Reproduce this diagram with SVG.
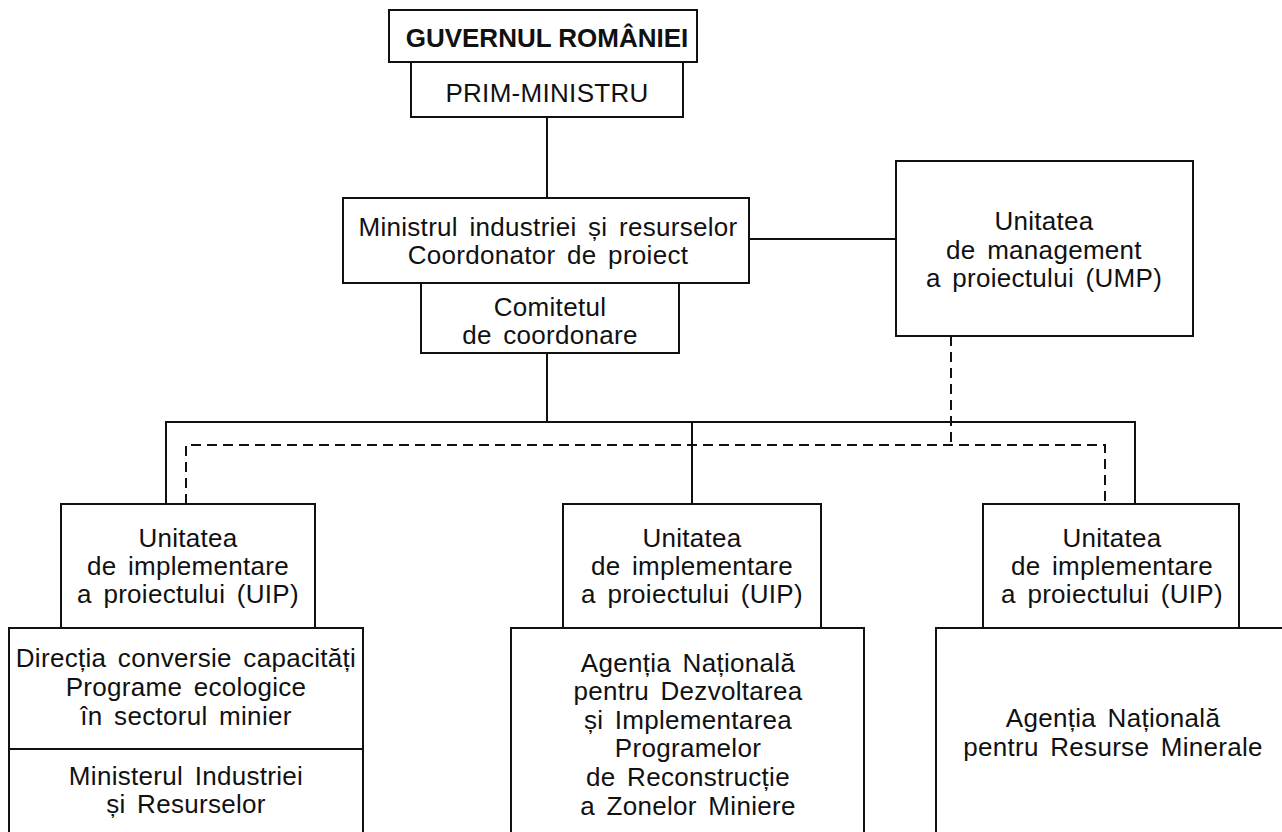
<svg xmlns="http://www.w3.org/2000/svg" width="1282" height="832" viewBox="0 0 1282 832">
<style>
.box{fill:#fff;stroke:#111;stroke-width:2}
.t{font-family:"Liberation Sans",Arial,Helvetica,sans-serif;font-size:26px;fill:#111;text-anchor:middle;letter-spacing:0.3px;word-spacing:4px}
.b{font-weight:bold;letter-spacing:0;word-spacing:0}
.ln{stroke:#111;stroke-width:2;fill:none}
.dash{stroke:#111;stroke-width:2;fill:none;stroke-dasharray:10 6}
</style>
<rect width="1282" height="832" fill="#fff"/>
<g id="connectors">
<line class="ln" x1="547" y1="117" x2="547" y2="198"/>
<line class="ln" x1="749" y1="239" x2="896" y2="239"/>
<line class="ln" x1="547" y1="353" x2="547" y2="422"/>
<polyline class="ln" points="166,504 166,422 1135,422 1135,504"/>
<line class="ln" x1="692" y1="422" x2="692" y2="504"/>
<line class="dash" x1="951" y1="336" x2="951" y2="445"/>
<polyline class="dash" points="186,504 186,445 1105,445 1105,504"/>
</g>
<g id="guvernul">
<rect class="box" x="389" y="10" width="308" height="52"/>
<text class="t b" x="547" y="47">GUVERNUL ROMÂNIEI</text>
</g>
<g id="prim-ministru">
<rect class="box" x="411" y="62" width="272" height="55"/>
<text class="t" x="547" y="102">PRIM-MINISTRU</text>
</g>
<g id="ministrul">
<rect class="box" x="343" y="198" width="406" height="85"/>
<text class="t" x="548" y="236">Ministrul industriei și resurselor</text>
<text class="t" x="548" y="264">Coordonator de proiect</text>
</g>
<g id="comitetul">
<rect class="box" x="421" y="283" width="258" height="70"/>
<text class="t" x="550" y="316">Comitetul</text>
<text class="t" x="550" y="344">de coordonare</text>
</g>
<g id="ump">
<rect class="box" x="896" y="161" width="297" height="175"/>
<text class="t" x="1044" y="230">Unitatea</text>
<text class="t" x="1044" y="259">de management</text>
<text class="t" x="1044" y="287">a proiectului (UMP)</text>
</g>
<g id="uip-left">
<rect class="box" x="61" y="504" width="254" height="124"/>
<text class="t" x="188" y="547">Unitatea</text>
<text class="t" x="188" y="575">de implementare</text>
<text class="t" x="188" y="603">a proiectului (UIP)</text>
</g>
<g id="directia">
<rect class="box" x="9" y="628" width="354" height="121"/>
<text class="t" x="186" y="667">Direcția conversie capacități</text>
<text class="t" x="186" y="696">Programe ecologice</text>
<text class="t" x="186" y="725">în sectorul minier</text>
</g>
<g id="ministerul">
<rect class="box" x="9" y="749" width="354" height="100"/>
<text class="t" x="186" y="785">Ministerul Industriei</text>
<text class="t" x="186" y="813">și Resurselor</text>
</g>
<g id="uip-middle">
<rect class="box" x="563" y="504" width="258" height="124"/>
<text class="t" x="692" y="547">Unitatea</text>
<text class="t" x="692" y="575">de implementare</text>
<text class="t" x="692" y="603">a proiectului (UIP)</text>
</g>
<g id="agentia-dezvoltare">
<rect class="box" x="511" y="628" width="353" height="220"/>
<text class="t" x="688" y="672">Agenția Națională</text>
<text class="t" x="688" y="700">pentru Dezvoltarea</text>
<text class="t" x="688" y="729">și Implementarea</text>
<text class="t" x="688" y="757">Programelor</text>
<text class="t" x="688" y="786">de Reconstrucție</text>
<text class="t" x="688" y="815">a Zonelor Miniere</text>
</g>
<g id="uip-right">
<rect class="box" x="983" y="504" width="256" height="124"/>
<text class="t" x="1112" y="547">Unitatea</text>
<text class="t" x="1112" y="575">de implementare</text>
<text class="t" x="1112" y="603">a proiectului (UIP)</text>
</g>
<g id="agentia-resurse">
<rect class="box" x="936" y="628" width="360" height="220"/>
<text class="t" x="1113" y="727">Agenția Națională</text>
<text class="t" x="1113" y="756">pentru Resurse Minerale</text>
</g>
</svg>
